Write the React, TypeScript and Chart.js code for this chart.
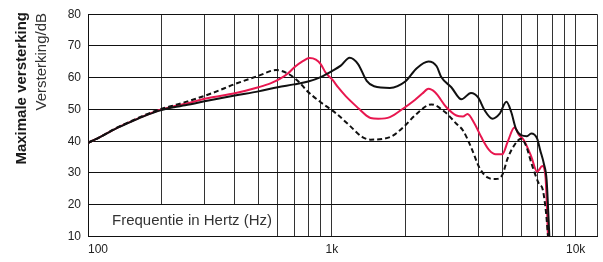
import React, { useEffect, useRef } from 'react';
import { Chart, registerables } from 'chart.js';

Chart.register(...registerables);

// ---------- data ----------
const FREQ_MIN = 100;
const FREQ_MAX = 12230;
const GAIN_MIN = 10;
const GAIN_MAX = 80;

const gridFreqs = [
  100, 200, 300, 400, 500, 600, 700, 800, 900,
  1000, 2000, 3000, 4000, 5000, 6000, 7000, 8000, 9000, 10000,
];
const labeledFreqs = [100, 1000, 10000];
const labeledTexts = ['100', '1k', '10k'];

const yTitleBold = 'Maximale versterking';
const yTitle = 'Versterking/dB';
const xTitle = 'Frequentie in Hertz (Hz)';

// solid black curve
const blackFreq = [
  100, 110, 130, 150, 170, 200, 225, 250, 312, 400, 500, 600, 700, 800, 900,
  1007, 1088, 1183, 1281, 1390, 1490, 1730, 2000, 2230, 2490, 2690, 2810,
  3090, 3400, 3720, 3980, 4220, 4560, 4870, 5200, 5440, 5690, 5970, 6310,
  6570, 6950, 7150, 7400, 7600, 7800,
];
const blackGain = [
  39.5, 41.0, 44.0, 46.1, 47.9, 49.8, 50.7, 51.3, 52.8, 54.4, 55.7, 57, 57.9,
  58.8, 60.2, 62.2, 63.8, 66.3, 64.3, 59, 57.3, 56.8, 58.8, 63, 65.1, 63.6,
  60.2, 57, 53.2, 55.2, 53.8, 49.9, 47.1, 48.6, 52.4, 49.2, 43.9, 41.9, 41.6,
  42.4, 40.8, 37.2, 33, 27.8, 10,
];

// solid red curve
const redFreq = [
  100, 110, 130, 150, 170, 200, 225, 250, 312, 400, 500, 560, 612, 660, 700,
  760, 810, 860, 900, 945, 1007, 1060, 1140, 1292, 1390, 1441, 1550, 1730,
  1970, 2190, 2350, 2490, 2650, 2950, 3242, 3450, 3600, 3850, 4100, 4420,
  4700, 5000, 5260, 5610, 5860, 6130, 6580, 6950, 7300, 7520, 7700,
];
const redGain = [
  39.5, 41.0, 44.0, 46.2, 48.0, 50.0, 51.0, 51.8, 53.6, 55.1, 57, 58.2, 59.6,
  61.3, 63.2, 65.2, 66.2, 65.7, 64.3, 61.5, 59.3, 57, 54.2, 50.2, 48, 47.3,
  47.1, 47.6, 50.4, 53, 55, 56.5, 55.4, 50.7, 48.1, 47.8, 48.6, 45.5, 41.3,
  37.2, 35.9, 35.9, 39.8, 44.3, 41.9, 40.3, 35.1, 30.4, 32.2, 28.8, 10,
];

// dashed black curve
const dashFreq = [
  100, 110, 130, 150, 170, 200, 225, 250, 322, 400, 500, 590, 660, 737, 790,
  900, 1040, 1180, 1335, 1440, 1730, 1970, 2190, 2560, 2910, 3242, 3450, 3720,
  4040, 4350, 4700, 5000, 5260, 5610, 5970, 6240, 6620, 7050, 7330, 7560, 7700,
];
const dashGain = [
  39.5, 41.0, 44.1, 46.3, 48.2, 50.2, 51.3, 52.3, 55.1, 58, 60.6, 62.4, 61.3,
  58.5, 55.9, 52.3, 48.8, 45, 41.3, 40.5, 41.3, 44.5, 48.1, 51.6, 49.2, 45.5,
  43.4, 38.2, 31.5, 28.6, 28.1, 29.4, 34.6, 38.8, 40.8, 38.8, 32.5, 26.8,
  24.7, 17.4, 10,
];

const toPoints = (xs: number[], ys: number[]) => xs.map((x, i) => ({ x, y: ys[i] }));

const FONT = '"Liberation Sans", Arial, sans-serif';

const overlayPlugin = {
  id: 'overlay',
  beforeDatasetsDraw(chart: any) {
    const { ctx, scales } = chart;
    const xs = scales.x;
    const ys = scales.y;
    const x0 = Math.floor(xs.getPixelForValue(gridFreqs[0]));
    const x1 = Math.floor(xs.getPixelForValue(gridFreqs[5]));
    const yTop = Math.floor(ys.getPixelForValue(20));
    const yBot = Math.floor(ys.getPixelForValue(GAIN_MIN));
    ctx.save();
    ctx.fillStyle = '#ffffff';
    ctx.fillRect(x0 + 1, yTop + 1, x1 - x0 - 1, yBot - yTop - 1);
    ctx.fillStyle = '#333333';
    ctx.font = `15px ${FONT}`;
    ctx.textAlign = 'left';
    ctx.textBaseline = 'middle';
    ctx.fillText(xTitle, x0 + 24, (yTop + yBot) / 2 + 1);
    ctx.restore();
  },
  afterDraw(chart: any) {
    const { ctx } = chart;
    ctx.save();
    ctx.fillStyle = '#1a1a1a';
    ctx.textAlign = 'right';
    ctx.textBaseline = 'alphabetic';
    ctx.save();
    ctx.translate(26, 12);
    ctx.rotate(-Math.PI / 2);
    ctx.font = `bold 15px ${FONT}`;
    ctx.fillText(yTitleBold, 0, 0);
    ctx.restore();
    ctx.save();
    ctx.translate(46, 13);
    ctx.rotate(-Math.PI / 2);
    ctx.fillStyle = '#333333';
    ctx.font = `15px ${FONT}`;
    ctx.fillText(yTitle, 0, 0);
    ctx.restore();
    ctx.restore();
  },
};

export default function App() {
  const ref = useRef<HTMLCanvasElement | null>(null);

  useEffect(() => {
    if (!ref.current) return;
    const chart = new Chart(ref.current, {
      type: 'line',
      data: {
        datasets: [
          {
            data: toPoints(dashFreq, dashGain),
            borderColor: '#111111',
            borderWidth: 2,
            borderDash: [5, 3],
          },
          {
            data: toPoints(blackFreq, blackGain),
            borderColor: '#111111',
            borderWidth: 2,
          },
          {
            data: toPoints(redFreq, redGain),
            borderColor: '#e8174f',
            borderWidth: 2,
          },
        ],
      },
      options: {
        responsive: false,
        animation: false,
        devicePixelRatio: 1,
        layout: { padding: { left: 0, right: 1.5, top: 13.5, bottom: 0 } },
        plugins: {
          legend: { display: false },
          tooltip: { enabled: false },
        },
        elements: {
          point: { radius: 0 },
          line: { cubicInterpolationMode: 'monotone', borderJoinStyle: 'round', borderCapStyle: 'butt' },
        },
        scales: {
          x: {
            type: 'logarithmic',
            min: FREQ_MIN,
            max: FREQ_MAX,
            afterBuildTicks: (s: any) => {
              s.ticks = [...gridFreqs, FREQ_MAX].map((v) => ({ value: v }));
            },
            afterFit: (s: any) => {
              s.height = 25.5;
            },
            grid: { color: '#333333', lineWidth: 1, drawTicks: false },
            border: { display: true, color: '#111111', width: 1 },
            ticks: {
              autoSkip: false,
              maxRotation: 0,
              align: 'inner',
              padding: 6,
              color: '#222222',
              font: { family: FONT, size: 12 },
              callback: (v: any) => {
                const i = labeledFreqs.indexOf(Number(v));
                return i >= 0 ? labeledTexts[i] : '';
              },
            },
          },
          y: {
            min: GAIN_MIN,
            max: GAIN_MAX,
            afterFit: (s: any) => {
              s.width = 88;
            },
            grid: { color: '#111111', lineWidth: 1, drawTicks: false },
            border: { display: true, color: '#111111', width: 1 },
            ticks: {
              stepSize: 10,
              padding: 7,
              color: '#222222',
              font: { family: FONT, size: 12 },
            },
          },
        },
      },
      plugins: [overlayPlugin],
    } as any);
    return () => chart.destroy();
  }, []);

  return (
    <div style={{ position: 'fixed', left: 0, top: 0, width: 603, height: 262, background: '#fff' }}>
      <canvas ref={ref} width={603} height={262} style={{ display: 'block' }} />
    </div>
  );
}
